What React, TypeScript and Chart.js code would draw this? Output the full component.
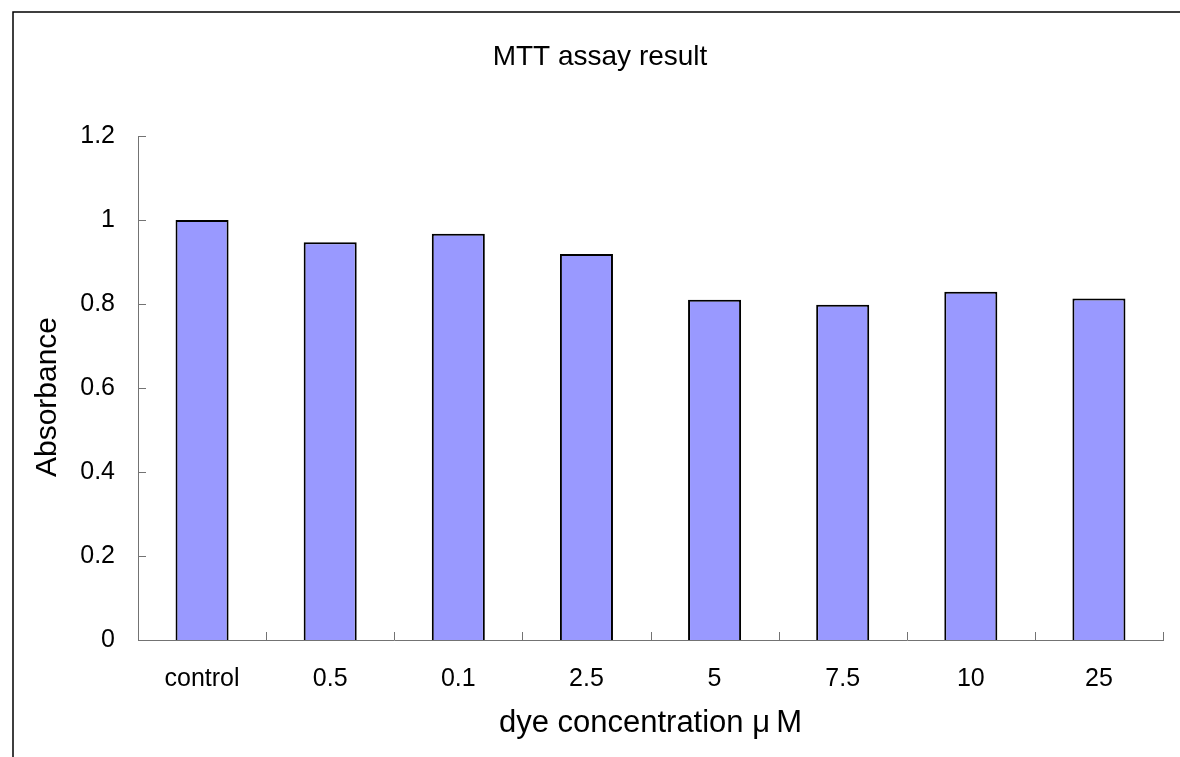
import React, { useEffect, useRef } from "react";
import { Chart, registerables } from "chart.js";

Chart.register(...registerables);

const categories = ["control", "0.5", "0.1", "2.5", "5", "7.5", "10", "25"];
const absorbance = [1.0, 0.947, 0.967, 0.919, 0.81, 0.798, 0.829, 0.813];
const yTicks = [0, 0.2, 0.4, 0.6, 0.8, 1, 1.2];

const chartTitle = "MTT assay result";
const xTitle = "dye concentration \u03BC\u2009M";
const yTitle = "Absorbance";

const FONT = "'Liberation Sans', Arial, sans-serif";
const AXIS_COLOR = "#737373";

// Draws the outer frame, inward-pointing tick marks and the three titles.
const decorations = {
  id: "decorations",
  afterDraw(chart: any) {
    const { ctx, chartArea, scales } = chart;
    const x = scales.x;
    const y = scales.y;
    ctx.save();

    // frame (top and left edges)
    ctx.strokeStyle = "#000";
    ctx.lineWidth = 1.5;
    ctx.beginPath();
    ctx.moveTo(13, chart.height);
    ctx.lineTo(13, 12);
    ctx.lineTo(chart.width, 12);
    ctx.stroke();

    // tick marks
    ctx.strokeStyle = AXIS_COLOR;
    ctx.lineWidth = 1;
    ctx.beginPath();
    for (const t of yTicks) {
      const py = Math.round(y.getPixelForValue(t)) + 0.5;
      ctx.moveTo(chartArea.left, py);
      ctx.lineTo(chartArea.left + 8, py);
    }
    for (let i = 0; i <= categories.length; i++) {
      const px = Math.round(x.getPixelForValue(i - 0.5)) + 0.5;
      ctx.moveTo(px, chartArea.bottom);
      ctx.lineTo(px, chartArea.bottom - 8);
    }
    ctx.stroke();

    // titles
    ctx.fillStyle = "#000";
    ctx.textAlign = "center";
    ctx.textBaseline = "alphabetic";
    ctx.font = `28px ${FONT}`;
    ctx.fillText(chartTitle, 600, 65);

    ctx.font = `31px ${FONT}`;
    ctx.fillText(xTitle, (chartArea.left + chartArea.right) / 2, 732);

    ctx.font = `30px ${FONT}`;
    ctx.translate(56, 397);
    ctx.rotate(-Math.PI / 2);
    ctx.fillText(yTitle, 0, 0);
    ctx.restore();
  },
};

export default function App() {
  const canvasRef = useRef<HTMLCanvasElement | null>(null);

  useEffect(() => {
    document.body.style.margin = "0";
    const canvas = canvasRef.current;
    if (!canvas) return;
    Chart.defaults.font.family = FONT;
    const chart = new Chart(canvas, {
      type: "bar",
      data: {
        labels: categories,
        datasets: [
          {
            label: yTitle,
            data: absorbance,
            backgroundColor: "#9999FF",
            borderColor: "#000000",
            borderWidth: 2,
            barPercentage: 0.414,
            categoryPercentage: 1,
          },
        ],
      },
      options: {
        animation: false,
        responsive: true,
        maintainAspectRatio: false,
        layout: { padding: { top: 136, right: 17, left: 0, bottom: 0 } },
        plugins: {
          legend: { display: false },
          title: { display: false },
          tooltip: { enabled: false },
        },
        scales: {
          x: {
            grid: { display: false, drawTicks: false },
            border: { display: true, color: AXIS_COLOR, width: 1 },
            ticks: { color: "#000", font: { size: 25 }, padding: 24, maxRotation: 0 },
            afterFit(scale: any) {
              scale.height = 117;
            },
          },
          y: {
            min: 0,
            max: 1.2,
            grid: { display: false, drawTicks: false },
            border: { display: true, color: AXIS_COLOR, width: 1 },
            afterBuildTicks(scale: any) {
              scale.ticks = yTicks.map((v) => ({ value: v }));
            },
            ticks: {
              color: "#000",
              font: { size: 25 },
              padding: 23,
              callback: (v: any) => String(Number(v)),
            },
            afterFit(scale: any) {
              scale.width = 138;
            },
          },
        },
      },
      plugins: [decorations],
    });
    return () => chart.destroy();
  }, []);

  return (
    <div style={{ position: "absolute", left: 0, top: 0, width: 1180, height: 757 }}>
      <canvas ref={canvasRef} />
    </div>
  );
}
